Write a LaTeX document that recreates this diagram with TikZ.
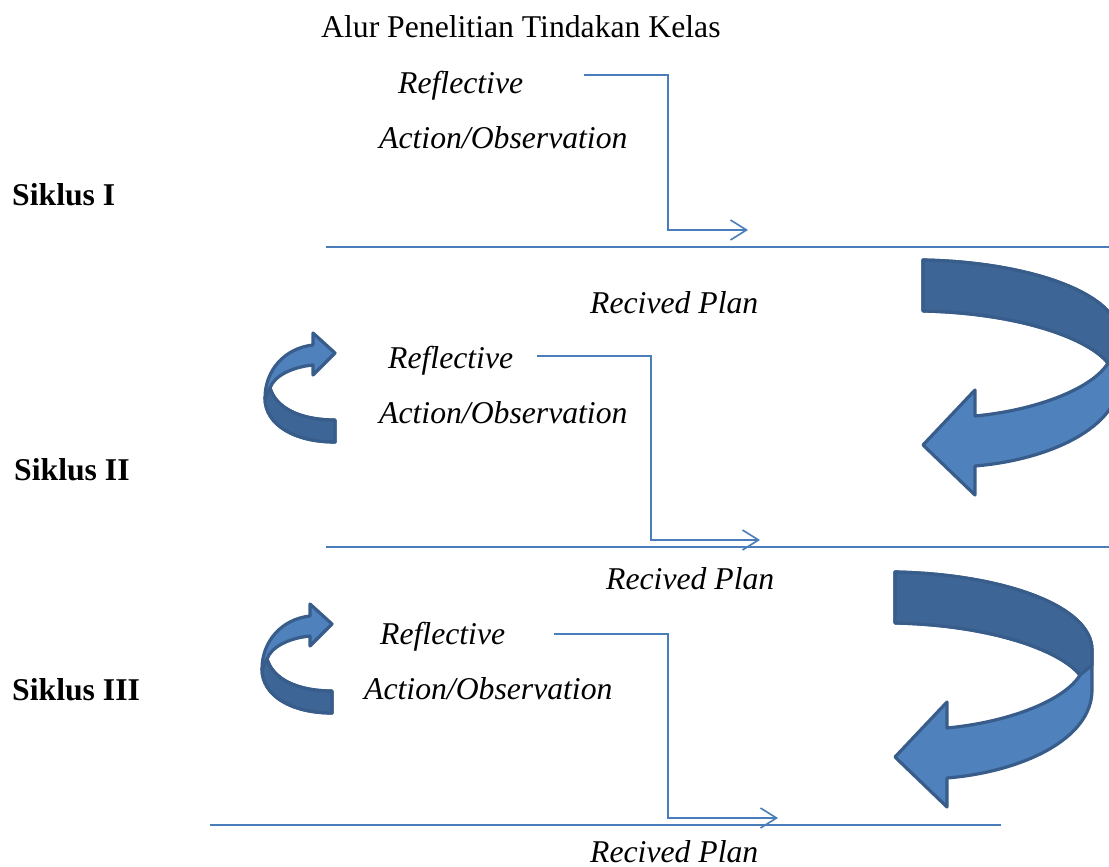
\documentclass[tikz,border=0pt]{standalone}
\usepackage{fontspec}
\setmainfont{Liberation Serif}
\usetikzlibrary{arrows.meta}
\definecolor{conn}{HTML}{4A7EBB}
\definecolor{lightblue}{HTML}{4F81BD}
\definecolor{darkblue}{HTML}{3D6596}
\definecolor{edgeblue}{HTML}{385D8A}
\tikzset{
  txt/.style={anchor=base west, inner sep=0pt, font=\fontsize{31.7}{36}\selectfont},
  itxt/.style={txt, font=\fontsize{31.7}{36}\selectfont\itshape},
  btxt/.style={txt, font=\fontsize{31.7}{36}\selectfont\bfseries},
  elbow/.style={draw=conn, line width=1.6pt, -{Straight Barb[length=16pt,width=20pt,line width=1.6pt]}},
  rule/.style={draw=conn, line width=1.7pt},
  bandlight/.style={fill=lightblue, draw=edgeblue, line width=3.2pt, line join=round},
  banddark/.style={fill=darkblue, draw=edgeblue, line width=3.2pt, line join=round},
}
\begin{document}
\begin{tikzpicture}[x=1pt,y=-1pt]
\useasboundingbox (0,0) rectangle (1109,867);
\clip (0,0) rectangle (1109,867);

% title and labels
\node[txt] (title) at (321,38) {Alur Penelitian Tindakan Kelas};
\node[itxt] (r1) at (398,93) {Reflective};
\node[itxt] (a1) at (379,148) {Action/Observation};
\node[btxt] (s1) at (12,205) {Siklus I};
\node[itxt] (p1) at (590,313) {Recived Plan};
\node[itxt] (r2) at (388,368) {Reflective};
\node[itxt] (a2) at (379,423) {Action/Observation};
\node[btxt] (s2) at (14,480) {Siklus II};
\node[itxt] (p2) at (606,589) {Recived Plan};
\node[itxt] (r3) at (380,644) {Reflective};
\node[itxt] (a3) at (364,699) {Action/Observation};
\node[btxt] (s3) at (12,700) {Siklus III};
\node[itxt] (p3) at (590,862) {Recived Plan};

% horizontal rules
\coordinate (h1a) at (326,247); \coordinate (h1b) at (1109,247);
\coordinate (h2a) at (326,547); \coordinate (h2b) at (1109,547);
\coordinate (h3a) at (210,825); \coordinate (h3b) at (1001,825);
\draw[rule] (h1a) -- (h1b);
\draw[rule] (h2a) -- (h2b);
\draw[rule] (h3a) -- (h3b);

% elbow connectors
\coordinate (e1s) at (584,75); \coordinate (e1e) at (748,230);
\coordinate (e2s) at (537,356); \coordinate (e2e) at (760,540);
\coordinate (e3s) at (554,634); \coordinate (e3e) at (778,818);
\draw[elbow] (e1s) -- (668,75) -- (668,230) -- (e1e);
\draw[elbow] (e2s) -- (651,356) -- (651,540) -- (e2e);
\draw[elbow] (e3s) -- (668,634) -- (668,818) -- (e3e);

% big curved arrows
\foreach \dx/\dy in {28/-312, 0/0} {
\begin{scope}[shift={(\dx,\dy)}]
  \path[bandlight] (895,572) .. controls (1000,574) and (1092,605) .. (1092,650)
     -- (1092,690) .. controls (1092,740) and (1020,772) .. (947,778)
     -- (947,807) -- (895,757) -- (947,702) -- (947,728)
     .. controls (1010,722) and (1065,700) .. (1080,675)
     .. controls (1060,650) and (990,625) .. (895,623) -- cycle;
  \path[banddark] (895,572) .. controls (1000,574) and (1092,605) .. (1092,650)
     -- (1092,665) -- (1080,675)
     .. controls (1060,650) and (990,625) .. (895,623) -- cycle;
\end{scope}
}

% small curved arrows
\foreach \dx/\dy in {0/0, -3/271} {
\begin{scope}[shift={(\dx,\dy)}]
  \path[bandlight] (335,442) .. controls (295,442) and (265,425) .. (265,398)
     .. controls (265,370) and (285,348) .. (313,345)
     -- (313,333) -- (335,353) -- (313,375) -- (313,365)
     .. controls (292,367) and (274,376) .. (270,388)
     .. controls (276,408) and (300,420) .. (335,420) -- cycle;
  \path[banddark] (335,442) .. controls (295,442) and (265,425) .. (265,398)
     -- (270,388)
     .. controls (276,408) and (300,420) .. (335,420) -- cycle;
\end{scope}
}
\end{tikzpicture}
\end{document}
